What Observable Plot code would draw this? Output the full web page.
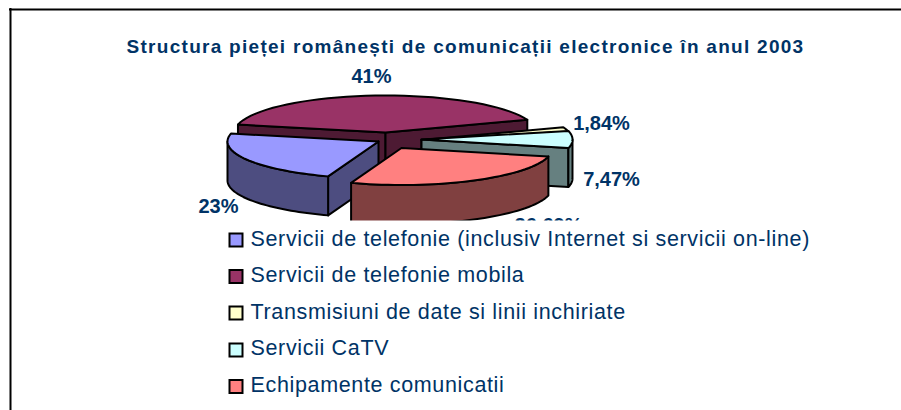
<!DOCTYPE html>
<html>
<head>
<meta charset="utf-8">
<script src="https://cdn.jsdelivr.net/npm/d3@7"></script>
<script src="https://cdn.jsdelivr.net/npm/@observablehq/plot@0.6"></script>
<style>
html,body{margin:0;padding:0;background:#fff}
svg{display:block}
.title-text text{letter-spacing:1.28px}
.legend-text text{letter-spacing:0.65px}
</style>
</head>
<body>
<div id="chart"></div>
<script>
const titleText = "Structura pieței românești de comunicații electronice în anul 2003";
const categories = [
  "Servicii de telefonie (inclusiv Internet si servicii on-line)",
  "Servicii de telefonie mobila",
  "Transmisiuni de date si linii inchiriate",
  "Servicii CaTV",
  "Echipamente comunicatii"
];
const values = [23, 41, 1.84, 7.47, 26.69];
const valueLabels = ["23%", "41%", "1,84%", "7,47%", "26,69%"];
const topColors = ["#9999FF", "#993366", "#FFFFCC", "#CCFFFF", "#FF8080"];
const wallColors = ["#4D4D80", "#4D1A33", "#808066", "#668080", "#804040"];

// Layout of the drawing
const W = 901, H = 410;
const navy = "#003366";
const rx = 151, ry = 37, depth = 39;
const startAngle = -160.5;
const centerX = [378, 385, 421, 421, 401];
const centerY = [141, 132, 139.5, 139, 147.5];
const labelX = [218, 371, 601, 611, 548];
const labelY = [206, 76, 123, 179, 225];
const drawOrder = [1, 2, 3, 0, 4];
const legendY = [239, 275, 312, 348, 385];
const swatchY = [240, 276.5, 313, 350, 386.5];

const total = d3.sum(values);
let acc = startAngle;
const slices = values.map((v, i) => {
  const a0 = acc, a1 = acc + v / total * 360;
  acc = a1;
  return {i, a0, a1, cx: centerX[i], cy: centerY[i]};
});
const rad = d => d * Math.PI / 180;
const px = (s, a) => s.cx + rx * Math.sin(rad(a));
const py = (s, a) => s.cy - ry * Math.cos(rad(a));
const arc = (s, a0, a1) => d3.range(0, 41).map(k => {
  const a = a0 + (a1 - a0) * k / 40;
  return [px(s, a), py(s, a)];
});
const down = pts => pts.map(([x, y]) => [x, y + depth]);

function poly(pts, fill, width = 2) {
  return Plot.line([...pts, pts[0]], {x: d => d[0], y: d => d[1], fill, stroke: "#000", strokeWidth: width, strokeLinejoin: "round", curve: "linear"});
}
// A cut face shows only when the top of the slice lies above it on the page.
function cutFaceShows(s, a) {
  const mid = (s.a0 + s.a1) / 2;
  const ex = px(s, a) - s.cx, ey = py(s, a) - s.cy;
  const mx = px(s, mid) - s.cx, my = py(s, mid) - s.cy;
  return my < ey * mx / ex;
}
function sliceMarks(s) {
  const marks = [];
  const wall = wallColors[s.i], apex = [s.cx, s.cy];
  for (const a of [s.a0, s.a1]) {
    if (!cutFaceShows(s, a)) continue;
    const edge = [apex, [px(s, a), py(s, a)]];
    marks.push(poly([...edge, ...down(edge).reverse()], wall));
  }
  // the front of the rim: the part of the arc that faces the viewer
  for (const [f0, f1] of [[90, 270], [-270, -90]]) {
    const u0 = Math.max(s.a0, f0), u1 = Math.min(s.a1, f1);
    if (u1 > u0) {
      const rim = arc(s, u0, u1);
      marks.push(poly([...rim, ...down(rim).reverse()], wall));
    }
  }
  marks.push(poly([apex, ...arc(s, s.a0, s.a1)], topColors[s.i]));
  return marks;
}

const textOpts = {fill: navy, fontFamily: "Liberation Sans, Arial, sans-serif"};
const chart = Plot.plot({
  width: W, height: H,
  margin: 0,
  style: {background: "#fff", overflow: "hidden"},
  x: {domain: [0, W], range: [0, W], axis: null},
  y: {domain: [0, H], range: [0, H], axis: null},
  marks: [
    ...drawOrder.flatMap(i => sliceMarks(slices[i])),
    Plot.text(valueLabels, {x: (d, i) => labelX[i], y: (d, i) => labelY[i], text: d => d, fontSize: 20, fontWeight: "bold", ...textOpts, textAnchor: "middle"}),
    // the legend box sits on top of the pie and hides what falls under it
    Plot.rect([0], {x1: 226, x2: 860, y1: 220.5, y2: H, fill: "#fff"}),
    Plot.text([titleText], {x: 465, y: 46, text: d => d, fontSize: 19, fontWeight: "bold", ...textOpts, textAnchor: "middle", className: "title-text"}),
    Plot.rect(categories, {x1: 229.5, x2: 242.5, y1: (d, i) => swatchY[i] - 6.5, y2: (d, i) => swatchY[i] + 6.5, fill: (d, i) => topColors[i], stroke: "#000", strokeWidth: 2}),
    Plot.text(categories, {x: 250, y: (d, i) => legendY[i], text: d => d, fontSize: 21.5, ...textOpts, textAnchor: "start", className: "legend-text"}),
    Plot.ruleX([10], {y1: 8, y2: H, stroke: "#000", strokeWidth: 2}),
    Plot.ruleY([9], {x1: 9, x2: W, stroke: "#000", strokeWidth: 2})
  ]
});
document.getElementById("chart").append(chart);
</script>
</body>
</html>
